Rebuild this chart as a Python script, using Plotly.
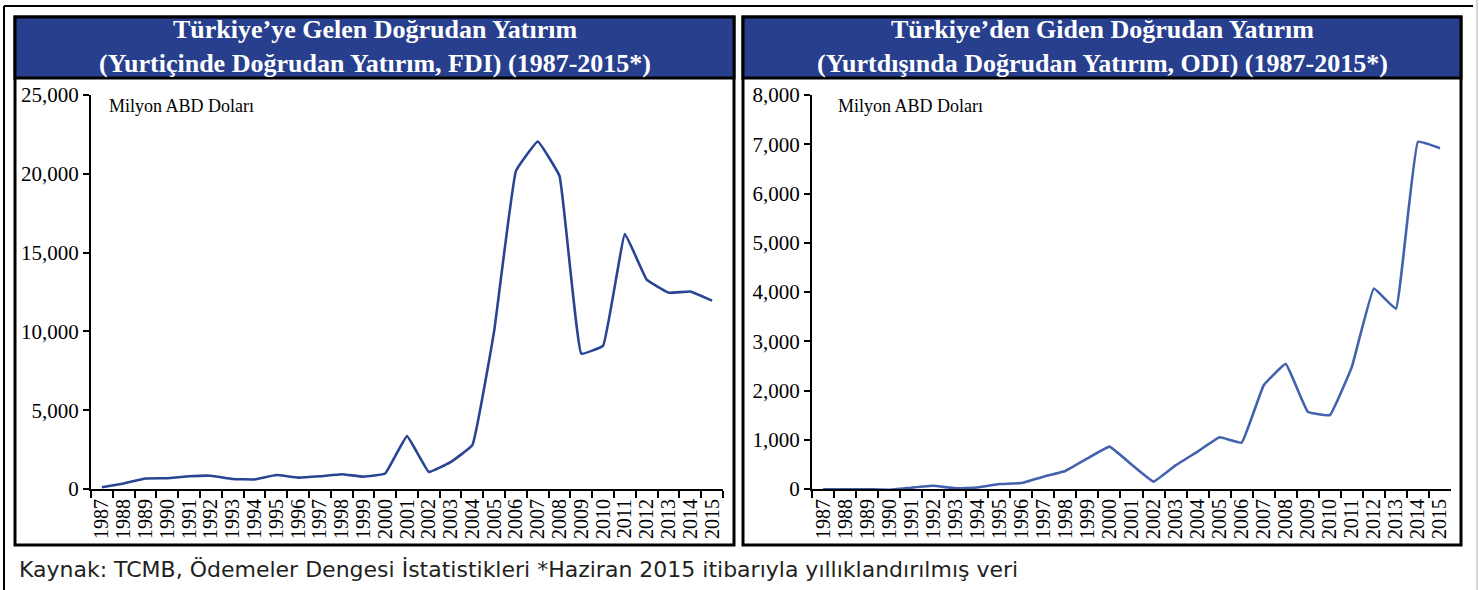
import plotly.graph_objects as go

W, H = 1479, 590

years = [str(y) for y in range(1987, 2016)]
fdi = [106, 354, 663, 684, 810, 844, 636, 608, 885, 722, 805, 940, 783, 982,
       3352, 1082, 1702, 2785, 10031, 20185, 22047, 19851, 8585, 9099, 16176,
       13282, 12457, 12530, 11950]
odi = [-5, -5, -5, -16, 27, 65, 14, 30, 100, 120, 251, 367, 620, 860,
       497, 150, 480, 760, 1050, 940, 2106, 2540, 1570, 1500, 2480, 4070,
       3660, 7050, 6920]

left_title = "Türkiye’ye Gelen Doğrudan Yatırım<br>(Yurtiçinde Doğrudan Yatırım, FDI) (1987-2015*)"
right_title = "Türkiye’den Giden Doğrudan Yatırım<br>(Yurtdışında Doğrudan Yatırım, ODI) (1987-2015*)"
unit_label = "Milyon ABD Doları"
footer = "Kaynak: TCMB, Ödemeler Dengesi İstatistikleri *Haziran 2015 itibarıyla yıllıklandırılmış veri"

fdi_ticks = [0, 5000, 10000, 15000, 20000, 25000]
odi_ticks = [0, 1000, 2000, 3000, 4000, 5000, 6000, 7000, 8000]


def px(x):
    return x / W


def py(y):
    return 1 - y / H


fig = go.Figure()
fig.add_trace(go.Scatter(x=years, y=fdi, mode="lines", xaxis="x", yaxis="y",
                         line=dict(color="#2a4494", width=2.6, shape="spline", smoothing=0.25),
                         showlegend=False, hoverinfo="x+y"))
fig.add_trace(go.Scatter(x=years, y=odi, mode="lines", xaxis="x2", yaxis="y2",
                         line=dict(color="#4262ad", width=2.6, shape="spline", smoothing=0.25),
                         showlegend=False, hoverinfo="x+y"))

tickfont = dict(family="Liberation Serif", size=20, color="#000")
xcommon = dict(type="category", tickson="boundaries", ticks="outside", ticklen=7,
               tickwidth=2, tickcolor="#000", showline=True, linecolor="#000",
               linewidth=2, tickangle=-90, tickfont=tickfont, showgrid=False,
               tickmode="array", tickvals=years, ticktext=years,
               range=[-0.5, 28.5], fixedrange=True, automargin=False)
ycommon = dict(ticks="outside", ticklen=6, tickwidth=2, tickcolor="#000",
               showline=True, linecolor="#000", linewidth=2,
               tickfont=dict(family="Liberation Serif", size=21, color="#000"),
               showgrid=False, zeroline=False, tickformat=",", fixedrange=True,
               automargin=False)

fig.update_layout(
    template="none",
    width=W, height=H,
    margin=dict(l=0, r=0, t=0, b=0, pad=0, autoexpand=False),
    paper_bgcolor="white", plot_bgcolor="rgba(0,0,0,0)",
    xaxis=dict(domain=[px(91), px(723)], anchor="y", **xcommon),
    yaxis=dict(domain=[py(489), py(95)], anchor="x", range=[0, 25000],
               tickvals=fdi_ticks, **ycommon),
    xaxis2=dict(domain=[px(812), px(1451)], anchor="y2", **xcommon),
    yaxis2=dict(domain=[py(489), py(95)], anchor="x2", range=[0, 8000],
                tickvals=odi_ticks, **ycommon),
)

shapes = []
# outer frame
shapes.append(dict(type="line", xref="paper", yref="paper", x0=px(4), x1=px(4), y0=py(6), y1=py(590),
                   line=dict(color="#000", width=2), layer="below"))
shapes.append(dict(type="line", xref="paper", yref="paper", x0=px(4), x1=px(1473), y0=py(6), y1=py(6),
                   line=dict(color="#000", width=2), layer="below"))
shapes.append(dict(type="line", xref="paper", yref="paper", x0=px(1477), x1=px(1477), y0=py(0), y1=py(590),
                   line=dict(color="#c8c8c8", width=1.5), layer="below"))
for (x0, x1) in [(15, 734), (743, 1461)]:
    # panel box
    shapes.append(dict(type="rect", xref="paper", yref="paper", x0=px(x0), x1=px(x1), y0=py(545), y1=py(17),
                       line=dict(color="#000", width=3), fillcolor="white", layer="below"))
    # title band
    shapes.append(dict(type="rect", xref="paper", yref="paper", x0=px(x0), x1=px(x1), y0=py(78), y1=py(17),
                       line=dict(color="#000", width=3), fillcolor="#283f8e", layer="below"))
fig.update_layout(shapes=shapes)

ann = []
for cx, t in [((15 + 734) / 2, left_title), ((743 + 1461) / 2, right_title)]:
    ann.append(dict(xref="paper", yref="paper", x=px(cx), y=py(47), text="<b>" + t + "</b>",
                    showarrow=False, xanchor="center", yanchor="middle", align="center",
                    font=dict(family="Liberation Serif", size=26, color="white")))
for lx in [107, 836]:
    ann.append(dict(xref="paper", yref="paper", x=px(lx), y=py(106), text=unit_label,
                    showarrow=False, xanchor="left", yanchor="middle",
                    font=dict(family="Liberation Serif", size=18, color="#000")))
ann.append(dict(xref="paper", yref="paper", x=px(17), y=py(569), text=footer,
                showarrow=False, xanchor="left", yanchor="middle",
                font=dict(family="DejaVu Sans", size=22, color="#231f20")))
fig.update_layout(annotations=ann)

fig.write_html("out.html", config={"displayModeBar": False},
               post_script="document.body.style.margin='0';document.body.style.overflow='hidden';")
